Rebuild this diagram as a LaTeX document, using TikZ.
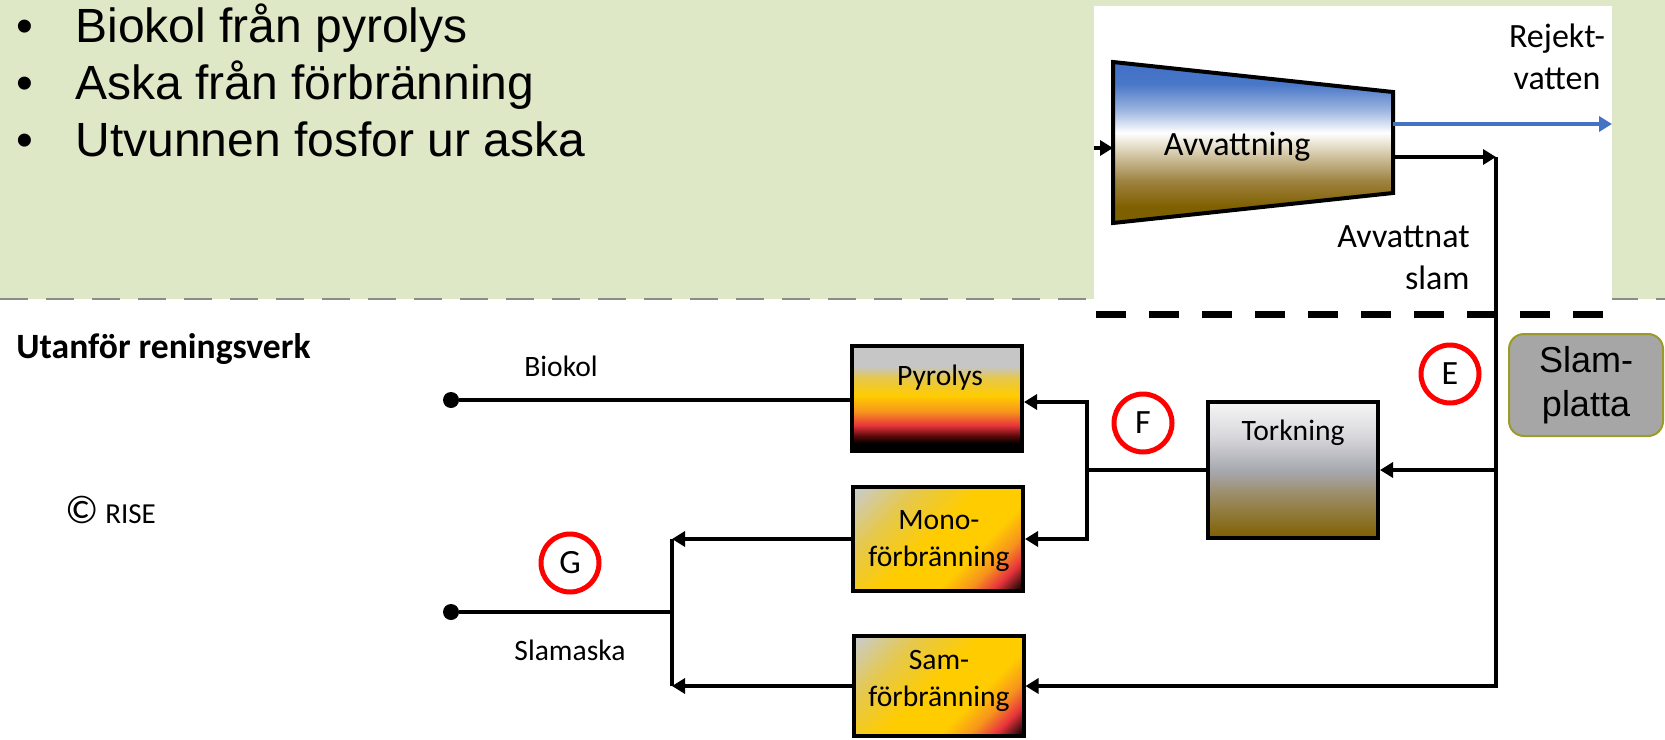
\documentclass[tikz,border=0pt]{standalone}
\usepackage{fontspec}
\setmainfont{Carlito}
\newfontfamily\arialfont{Liberation Sans}
\usetikzlibrary{arrows.meta}

% palette
\definecolor{bggreen}{HTML}{DFE8C6}
\definecolor{dashgray}{HTML}{8C8C8C}
\definecolor{waterblue}{HTML}{4472C4}
\definecolor{ringred}{HTML}{FF0000}
\definecolor{platefill}{HTML}{A6A6A6}
\definecolor{plateedge}{HTML}{9C9A28}
% fire (pyrolysis / incineration)
\definecolor{fgray}{HTML}{C6C6C6}
\definecolor{fgraytint}{HTML}{C8CCD0}
\definecolor{fgold}{HTML}{E6C84A}
\definecolor{fyellow}{HTML}{FFCC00}
\definecolor{forange}{HTML}{F7941D}
\definecolor{fred}{HTML}{E8343C}
\definecolor{fdark}{HTML}{5A0A0A}
% sludge
\definecolor{sbrown}{HTML}{7F6000}
\definecolor{skhaki}{HTML}{9A8A60}
\definecolor{sgray}{HTML}{A8A8B0}
\definecolor{slight}{HTML}{D8D8DC}
\definecolor{swhite}{HTML}{F6F6F6}
\definecolor{sblue}{HTML}{3F6FC8}
\definecolor{sblue2}{HTML}{4A78C8}
\definecolor{spale}{HTML}{9DB5E0}
\definecolor{stan}{HTML}{D8CDB0}
\definecolor{sochre}{HTML}{9E8240}

% shadings: the path's bounding box covers 25bp..75bp
\pgfdeclareverticalshading{pyroshade}{100bp}{color(0bp)=(black); color(28.5bp)=(black);
  color(32bp)=(fdark); color(37bp)=(fred); color(43.5bp)=(forange);
  color(51bp)=(fyellow); color(59.5bp)=(fgold); color(65bp)=(fgray); color(100bp)=(fgray)}
% diagonal use (shading angle=45): box corners at 14.6bp and 85.4bp
\pgfdeclareverticalshading{burnshade}{100bp}{color(0bp)=(black); color(15bp)=(black);
  color(22.5bp)=(fred); color(29bp)=(forange); color(37bp)=(fyellow); color(52bp)=(fyellow);
  color(68bp)=(fgold); color(85bp)=(fgraytint); color(100bp)=(fgraytint)}
\pgfdeclareverticalshading{dryshade}{100bp}{color(0bp)=(sbrown); color(25bp)=(sbrown);
  color(40bp)=(skhaki); color(50bp)=(sgray); color(62.5bp)=(slight); color(75bp)=(swhite);
  color(100bp)=(swhite)}
\pgfdeclareverticalshading{dewatershade}{100bp}{color(0bp)=(sbrown); color(30bp)=(sbrown);
  color(38bp)=(sochre); color(47bp)=(stan); color(53bp)=(white); color(60bp)=(spale);
  color(68bp)=(sblue2); color(75bp)=(sblue); color(100bp)=(sblue)}

\begin{document}
\begin{tikzpicture}[x=0.5pt,y=-0.5pt,
  flow/.style={draw=black, line width=2pt},
  arr/.style={flow, -{Triangle[length=6.5pt,width=7.5pt]}},
  box/.style={draw=black, line width=2pt, minimum width=85pt, inner sep=0pt},
  lbl/.style={font=\fontsize{14.8}{18.5}\selectfont, align=center, inner sep=0pt},
  toplbl/.style={font=\fontsize{17}{21}\selectfont, inner sep=0pt},
  ring/.style={circle, draw=ringred, line width=2.5pt, minimum size=29pt,
    inner sep=0pt, font=\fontsize{17}{17}\selectfont},
  enddot/.style={circle, fill=black, minimum size=8pt, inner sep=0pt},
  bullet/.style={anchor=base west, inner sep=0pt, font=\arialfont\fontsize{24}{28}\selectfont}]

\useasboundingbox (0,0) rectangle (1665,739);

% slide background and the boundary between the two parts
\fill[white] (0,0) rectangle (1665,739);
\fill[bggreen] (0,0) rectangle (1665,299);
\draw[dashgray, line width=1pt, dash pattern=on 14pt off 9pt] (0,299) -- (1665,299);

% bullet list
\node[bullet] (b1) at (16,42) {•};
\node[bullet] (t1) at (75,42) {Biokol från pyrolys};
\node[bullet] (b2) at (16,99) {•};
\node[bullet] (t2) at (75,99) {Aska från förbränning};
\node[bullet] (b3) at (16,156) {•};
\node[bullet] (t3) at (75,156) {Utvunnen fosfor ur aska};

% dewatering panel
\fill[white] (1094,6) rectangle (1612,302);
\draw[line width=3.5pt, dash pattern=on 15pt off 11.5pt] (1096,314) -- (1604,314);

\shadedraw[shading=dewatershade, line width=2pt, line join=miter]
  (1113,62) -- (1393,92) -- (1393,193) -- (1113,223) -- cycle;
\node[toplbl] (avv) at (1237,147) {Avvattning};
\coordinate (panelL) at (1094,148);
\coordinate (avvIn) at (1113,148);
\coordinate (avvRej) at (1393,124);
\coordinate (rejEnd) at (1612,124);
\coordinate (avvSlam) at (1393,157);
\coordinate (corner) at (1496,157);

\node[toplbl, align=center] (rej) at (1557,57) {Rejekt-\\vatten};
\node[toplbl, align=right, anchor=east] (avvslam) at (1470,258) {Avvattnat\\slam};

% process boxes
\node[box, shading=pyroshade, shade, minimum height=52.5pt] (pyr) at (937,398) {};
\node[lbl] (pyrt) at (940,378) {Pyrolys};
\node[box, shading=burnshade, shading angle=45, shade, minimum height=52pt] (mono) at (938,539) {};
\node[lbl] (monot) at (939,541) {Mono-\\förbränning};
\node[box, shading=burnshade, shading angle=45, shade, minimum height=50pt] (sam) at (938.5,686) {};
\node[lbl] (samt) at (939,681) {Sam-\\förbränning};
\node[box, shading=dryshade, shade, minimum height=68pt] (tork) at (1293,470) {};
\node[lbl] (torkt) at (1293,433) {Torkning};

\node[draw=plateedge, fill=platefill, line width=1pt, rounded corners=7.5pt,
  minimum width=77pt, minimum height=51pt, inner sep=0pt, align=center,
  font=\arialfont\fontsize{18}{22}\selectfont] (plate) at (1586,385) {Slam-\\platta};

% end points
\node[enddot] (bdot) at (451,400) {};
\node[enddot] (sdot) at (451,612) {};
\coordinate (fx) at (1087,0);
\coordinate (gx) at (672,0);
\coordinate (fj) at (tork.west -| fx);

% connectors
\draw[arr] (panelL) -- (avvIn);
\draw[flow, draw=waterblue, -{Triangle[length=6.5pt,width=7.5pt]}] (avvRej) -- (rejEnd);
\draw[arr] (avvSlam) -- (corner);
\draw[arr] (corner) |- (sam.east);
\draw[arr] (corner |- tork.east) -- (tork.east);
\draw[flow] (tork.west) -- (fj);
\draw[arr] (fj) |- ([yshift=-2pt]pyr.east);
\draw[arr] (fj) |- (mono.east);
\draw[flow] ([yshift=-1pt]pyr.west) -- (bdot);
\draw[arr] (mono.west) -- (mono.west -| gx);
\draw[arr] (sam.west) -- (sam.west -| gx);
\draw[flow] (mono.west -| gx) -- (sam.west -| gx);
\draw[flow] (sdot) -- (sdot -| gx);

% labels and markers
\node[lbl] (biokol) at (561,366) {Biokol};
\node[lbl] (slamaska) at (570,650) {Slamaska};
\node[ring] (E) at (1450,374) {E};
\node[ring] (F) at (1143,423) {F};
\node[ring] (G) at (570,563) {G};

\node[anchor=base west, inner sep=0pt, font=\bfseries\fontsize{17.8}{20}\selectfont] (out) at (16,358) {Utanför reningsverk};
\node[anchor=base west, inner sep=0pt, font=\fontsize{14.5}{18}\selectfont] (rise) at (65,523) {{\fontsize{20}{20}\selectfont ©} RISE};

\end{tikzpicture}
\end{document}
